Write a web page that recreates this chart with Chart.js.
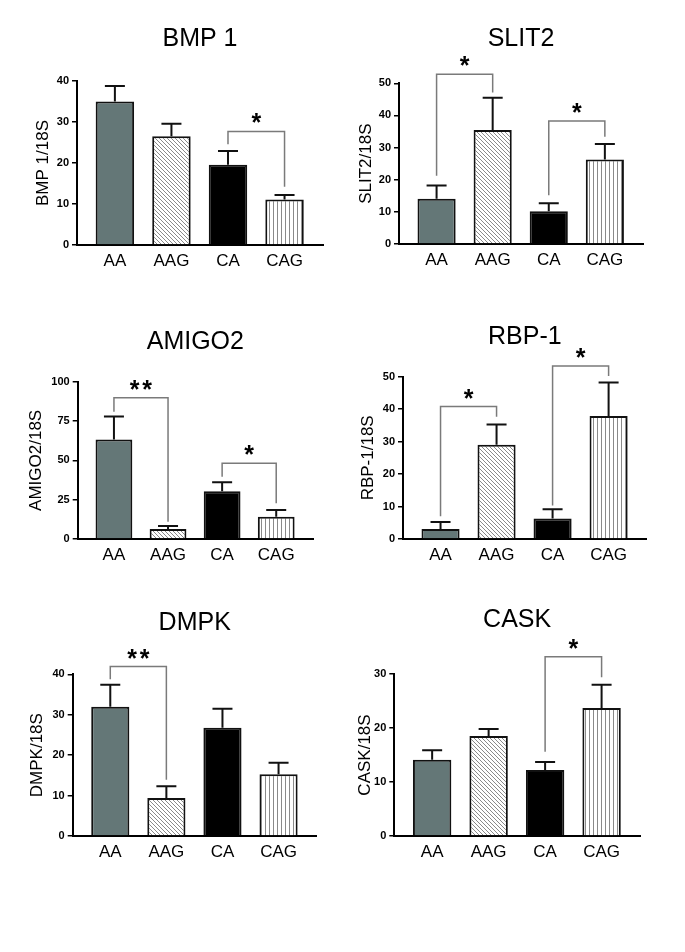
<!DOCTYPE html>
<html>
<head>
<meta charset="utf-8">
<script src="https://cdn.jsdelivr.net/npm/chart.js@4.4.1/dist/chart.umd.min.js"></script>
<style>
  html, body { margin: 0; padding: 0; background: #fff; }
  body { width: 685px; height: 952px; position: relative; overflow: hidden; }
  canvas { position: absolute; }
</style>
</head>
<body>
<canvas id="bmp1"></canvas>
<canvas id="slit2"></canvas>
<canvas id="amigo2"></canvas>
<canvas id="rbp1"></canvas>
<canvas id="dmpk"></canvas>
<canvas id="cask"></canvas>
<script>
// groups on the x axis
const groups = ['AA', 'AAG', 'CA', 'CAG'];

// means and SEM
const bmp1Means = [35.0, 26.5, 19.6, 11.1];
const bmp1Sem = [3.8, 3.1, 3.3, 1.1];
const slit2Means = [14.1, 35.5, 10.2, 26.3];
const slit2Sem = [4.1, 10.0, 2.5, 4.8];
const amigo2Means = [63.3, 6.4, 30.3, 14.2];
const amigo2Sem = [14.5, 1.9, 5.7, 4.2];
const rbp1Means = [3.1, 29.0, 6.3, 37.9];
const rbp1Sem = [2.1, 6.3, 2.9, 10.3];
const dmpkMeans = [32.0, 9.4, 26.8, 15.3];
const dmpkSem = [5.4, 2.9, 4.7, 2.8];
const caskMeans = [14.1, 18.5, 12.2, 23.7];
const caskSem = [1.8, 1.3, 1.5, 4.3];

// significance brackets: bar indexes, bracket top, leg ends (axis units), mark
const bmp1Sig = [{ from: 2, to: 3, top: 27.7, left: 24.6, right: 14.2, mark: '*' }];
const slit2Sig = [
    { from: 0, to: 1, top: 52.8, left: 21.2, right: 47.1, mark: '*' },
    { from: 2, to: 3, top: 38.3, left: 15.2, right: 33.4, mark: '*' }
];
const amigo2Sig = [
    { from: 0, to: 1, top: 89.8, left: 80.9, right: 11.0, mark: '**' },
    { from: 2, to: 3, top: 48.1, left: 39.6, right: 22.7, mark: '*' }
];
const rbp1Sig = [
    { from: 0, to: 1, top: 40.8, left: 7.0, right: 37.7, mark: '*' },
    { from: 2, to: 3, top: 53.3, left: 10.3, right: 50.2, mark: '*' }
];
const dmpkSig = [{ from: 0, to: 1, top: 41.9, left: 38.8, right: 13.9, mark: '**' }];
const caskSig = [{ from: 2, to: 3, top: 33.2, left: 15.6, right: 29.4, mark: '*' }];

const FONT = "'Liberation Sans', Arial, Helvetica, sans-serif";

// fill patterns for the four groups
function diagonalHatch() {
    const c = document.createElement('canvas');
    c.width = 8; c.height = 8;
    const g = c.getContext('2d');
    g.fillStyle = '#fff';
    g.fillRect(0, 0, 8, 8);
    g.strokeStyle = '#8a8a8a';
    g.lineWidth = 1;
    for (let k = -8; k <= 8; k += 4) {
        g.beginPath();
        g.moveTo(k, 0);
        g.lineTo(k + 8, 8);
        g.stroke();
    }
    return g.createPattern(c, 'repeat');
}

function verticalHatch() {
    const c = document.createElement('canvas');
    c.width = 4; c.height = 4;
    const g = c.getContext('2d');
    g.fillStyle = '#fff';
    g.fillRect(0, 0, 4, 4);
    g.fillStyle = '#8a8a8a';
    g.fillRect(1, 0, 1, 4);
    return g.createPattern(c, 'repeat');
}

const fills = ['#647777', diagonalHatch(), '#000000', verticalHatch()];

function makePanel(id, opts) {
    const { title, yLabel, means, sem, sig, yMax, yStep, geo } = opts;
    const canvas = document.getElementById(id);
    const top = geo.titleY - 20;
    canvas.width = geo.panelW;
    canvas.height = geo.bottom - top + 40;
    canvas.style.left = geo.panelX + 'px';
    canvas.style.top = top + 'px';
    const yBoxW = geo.yTitleDist + 10.2;

    const errorBars = {
        id: 'errorBars',
        afterDatasetsDraw(chart) {
            const ctx = chart.ctx;
            const y = chart.scales.y;
            const bars = chart.getDatasetMeta(0).data;
            ctx.save();
            ctx.strokeStyle = '#111';
            ctx.lineWidth = 2;
            bars.forEach((bar, i) => {
                const y0 = y.getPixelForValue(means[i]);
                const y1 = y.getPixelForValue(means[i] + sem[i]);
                ctx.beginPath();
                ctx.moveTo(bar.x, y0);
                ctx.lineTo(bar.x, y1);
                ctx.moveTo(bar.x - 10, y1);
                ctx.lineTo(bar.x + 10, y1);
                ctx.stroke();
            });
            ctx.restore();
        }
    };

    const brackets = {
        id: 'brackets',
        afterDraw(chart) {
            const ctx = chart.ctx;
            const y = chart.scales.y;
            const bars = chart.getDatasetMeta(0).data;
            ctx.save();
            sig.forEach(s => {
                const xa = bars[s.from].x, xb = bars[s.to].x;
                const yt = y.getPixelForValue(s.top);
                ctx.strokeStyle = '#7a7a7a';
                ctx.lineWidth = 1.5;
                ctx.beginPath();
                ctx.moveTo(xa, y.getPixelForValue(s.left));
                ctx.lineTo(xa, yt);
                ctx.lineTo(xb, yt);
                ctx.lineTo(xb, y.getPixelForValue(s.right));
                ctx.stroke();
                ctx.fillStyle = '#000';
                ctx.font = 'bold 25px ' + FONT;
                ctx.textAlign = 'center';
                ctx.textBaseline = 'alphabetic';
                const mid = (xa + xb) / 2;
                const n = s.mark.length;
                for (let k = 0; k < n; k++) {
                    ctx.fillText('*', mid + (k - (n - 1) / 2) * 12.5, yt - 14 + 14);
                }
            });
            ctx.restore();
        }
    };

    return new Chart(canvas, {
        type: 'bar',
        data: {
            datasets: [{
                data: groups.map((g, i) => ({ x: i, y: means[i] })),
                backgroundColor: fills,
                borderColor: '#111',
                borderWidth: 2,
                barPercentage: 0.68,
                categoryPercentage: 1
            }]
        },
        options: {
            responsive: false,
            animation: false,
            devicePixelRatio: 1,
            layout: {
                padding: {
                    left: geo.L - geo.panelX - yBoxW,
                    right: geo.panelX + geo.panelW - geo.R,
                    top: 0,
                    bottom: 0
                }
            },
            plugins: {
                legend: { display: false },
                tooltip: { enabled: false },
                title: {
                    display: true,
                    text: title,
                    fullSize: false,
                    color: '#000',
                    font: { family: FONT, size: 25, weight: 'normal', lineHeight: 1.2 },
                    padding: { top: 5, bottom: geo.top - geo.titleY - 15 }
                }
            },
            scales: {
                x: {
                    type: 'linear',
                    min: -0.67,
                    max: 3.68,
                    offset: false,
                    grid: { display: false, drawTicks: false },
                    border: { display: true, color: '#000', width: 2 },
                    afterBuildTicks: scale => { scale.ticks = groups.map((g, i) => ({ value: i })); },
                    afterFit: scale => { scale.height = 40; },
                    ticks: {
                        autoSkip: false,
                        maxRotation: 0,
                        padding: 6,
                        color: '#000',
                        font: { family: FONT, size: 17 },
                        callback: v => groups[v]
                    }
                },
                y: {
                    min: 0,
                    max: yMax,
                    grid: { drawOnChartArea: false, color: '#000', lineWidth: 1.5, tickLength: 5 },
                    border: { display: true, color: '#000', width: 2 },
                    afterFit: scale => { scale.width = yBoxW; },
                    ticks: {
                        stepSize: yStep,
                        padding: 3,
                        color: '#000',
                        font: { family: FONT, size: 11, weight: 'bold' }
                    },
                    title: {
                        display: true,
                        text: yLabel,
                        color: '#000',
                        padding: 0,
                        font: { family: FONT, size: 17, lineHeight: 1.2 }
                    }
                }
            }
        },
        plugins: [errorBars, brackets]
    });
}

makePanel('bmp1', {
    title: 'BMP 1', yLabel: 'BMP 1/18S', means: bmp1Means, sem: bmp1Sem, sig: bmp1Sig, yMax: 40, yStep: 10,
    geo: { panelX: 0, panelW: 340, L: 77, R: 323, top: 81, bottom: 245, titleY: 39, yTitleDist: 34 }
});
makePanel('slit2', {
    title: 'SLIT2', yLabel: 'SLIT2/18S', means: slit2Means, sem: slit2Sem, sig: slit2Sig, yMax: 50, yStep: 10,
    geo: { panelX: 340, panelW: 345, L: 399, R: 643, top: 83.3, bottom: 244, titleY: 39, yTitleDist: 33 }
});
makePanel('amigo2', {
    title: 'AMIGO2', yLabel: 'AMIGO2/18S', means: amigo2Means, sem: amigo2Sem, sig: amigo2Sig, yMax: 100, yStep: 25,
    geo: { panelX: 0, panelW: 340, L: 77.7, R: 313, top: 381.7, bottom: 539, titleY: 342, yTitleDist: 41 }
});
makePanel('rbp1', {
    title: 'RBP-1', yLabel: 'RBP-1/18S', means: rbp1Means, sem: rbp1Sem, sig: rbp1Sig, yMax: 50, yStep: 10,
    geo: { panelX: 340, panelW: 345, L: 403, R: 646.7, top: 376.7, bottom: 539.3, titleY: 337, yTitleDist: 34.7 }
});
makePanel('dmpk', {
    title: 'DMPK', yLabel: 'DMPK/18S', means: dmpkMeans, sem: dmpkSem, sig: dmpkSig, yMax: 40, yStep: 10,
    geo: { panelX: 0, panelW: 340, L: 72.7, R: 316.7, top: 674.3, bottom: 836, titleY: 623, yTitleDist: 35 }
});
makePanel('cask', {
    title: 'CASK', yLabel: 'CASK/18S', means: caskMeans, sem: caskSem, sig: caskSig, yMax: 30, yStep: 10,
    geo: { panelX: 340, panelW: 345, L: 394.3, R: 640, top: 674, bottom: 836.7, titleY: 620, yTitleDist: 29.3 }
});
</script>
</body>
</html>
